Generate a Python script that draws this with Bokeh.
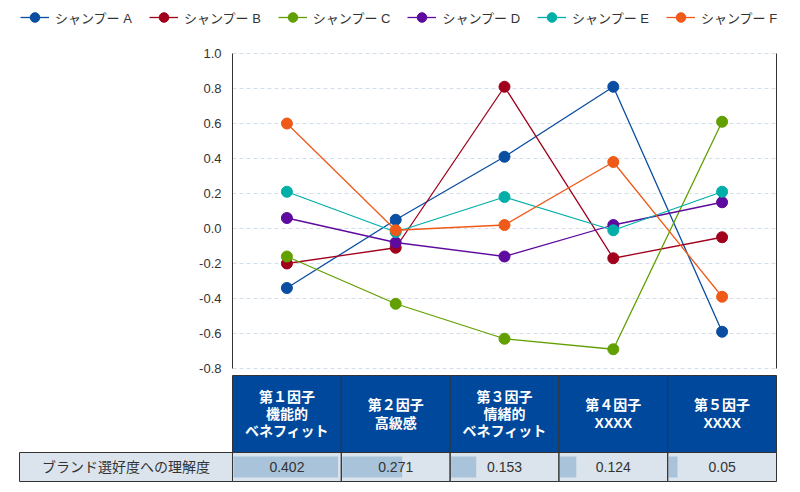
from bokeh.plotting import figure
from bokeh.models import (Range1d, LinearAxis, FixedTicker, Legend, Grid,
                          LegendItem, NumeralTickFormatter)
from bokeh.embed import file_html
from bokeh.resources import INLINE
from bokeh.core.properties import value

# ---------------- data ----------------
categories = ["第１因子\n機能的\nベネフィット", "第２因子\n高級感",
              "第３因子\n情緒的\nベネフィット", "第４因子\nXXXX", "第５因子\nXXXX"]
series_names = ["シャンプー A", "シャンプー B", "シャンプー C",
                "シャンプー D", "シャンプー E", "シャンプー F"]
sample_a = [-0.34, 0.05, 0.41, 0.81, -0.59]
sample_b = [-0.20, -0.11, 0.81, -0.17, -0.05]
sample_c = [-0.16, -0.43, -0.63, -0.69, 0.61]
sample_d = [0.06, -0.08, -0.16, 0.02, 0.15]
sample_e = [0.21, -0.02, 0.18, -0.01, 0.21]
sample_f = [0.60, -0.01, 0.02, 0.38, -0.39]
y_ticks = [-0.8, -0.6, -0.4, -0.2, 0.0, 0.2, 0.4, 0.6, 0.8, 1.0]
row_label = "ブランド選好度への理解度"
understanding = [0.402, 0.271, 0.153, 0.124, 0.05]
value_labels = ["0.402", "0.271", "0.153", "0.124", "0.05"]
bar_share = [0.97, 0.56, 0.24, 0.16, 0.09]   # bar length as share of cell

series = [sample_a, sample_b, sample_c, sample_d, sample_e, sample_f]
colors = ["#0a4ea2", "#a0001c", "#62a000", "#5e0a9e", "#00afa8", "#ef5a18"]

FONT_S = "Liberation Sans, Noto Sans CJK JP"
FONT = value(FONT_S)
TXT = "#333333"

# ---------------- layout (pixel geometry) ----------------
W, H = 784, 484
Y_MIN, Y_MAX = -0.8, 1.0
PX_LEFT, PX_RIGHT = 232, 776      # plot area left / right edge
PX_TOP, PX_BOT = 53, 368          # y = 1.0 / y = -0.8
ncat = len(categories)
unit = (PX_RIGHT - PX_LEFT) / ncat
yscale = (PX_BOT - PX_TOP) / (Y_MAX - Y_MIN)


def X(px):
    return -0.5 + (px - PX_LEFT) / unit


def Y(px):
    return Y_MAX - (px - PX_TOP) / yscale


p = figure(width=W, height=H, x_range=Range1d(X(0), X(W)),
           y_range=Range1d(Y(H), Y(0)), output_backend="svg",
           toolbar_location=None, x_axis_location=None, y_axis_location=None,
           min_border=0)
p.outline_line_color = None
p.background_fill_color = "white"
p.border_fill_color = "white"
p.grid.visible = False

# y axis (left) and plain right border line
ya = LinearAxis(fixed_location=-0.5, bounds=(Y_MIN, Y_MAX),
                ticker=FixedTicker(ticks=y_ticks),
                formatter=NumeralTickFormatter(format="0.0"),
                major_tick_line_color=None, minor_tick_line_color=None,
                major_tick_out=0, major_tick_in=0, major_label_standoff=11,
                axis_line_color="#333333", axis_line_width=1,
                major_label_text_font=FONT_S, major_label_text_font_size="13px",
                major_label_text_color=TXT)
p.add_layout(ya, "left")
ra = LinearAxis(fixed_location=ncat - 0.5, bounds=(Y_MIN, Y_MAX),
                ticker=FixedTicker(ticks=[]), axis_line_color="#333333",
                major_tick_line_color=None, minor_tick_line_color=None,
                major_label_text_font_size="0px", major_tick_out=0, major_tick_in=0)
p.add_layout(ra, "right")

grid = Grid(dimension=1, ticker=FixedTicker(ticks=y_ticks), bounds=(Y_MIN, Y_MAX),
            grid_line_color="#d2deea", grid_line_dash="4 3", grid_line_width=1)
if "cross_bounds" in Grid.properties():
    grid.cross_bounds = (-0.5, ncat - 0.5)
    p.add_layout(grid)
else:
    p.segment(x0=[-0.5] * len(y_ticks), x1=[ncat - 0.5] * len(y_ticks),
              y0=y_ticks, y1=y_ticks, line_color="#d2deea", line_dash="4 3",
              line_width=1)

idx = list(range(ncat))
items = []
for name, vals, col in zip(series_names, series, colors):
    lr = p.line(x=idx, y=vals, line_color=col, line_width=1.3)
    sr = p.scatter(x=idx, y=vals, size=11, fill_color=col, line_color=col)
    items.append(LegendItem(label=name, renderers=[lr, sr]))

legend = Legend(items=items, orientation="horizontal", location=(20, H - 29),
                glyph_width=29, glyph_height=24, label_standoff=6, spacing=17,
                padding=0, margin=0, border_line_color=None,
                background_fill_alpha=0, label_text_font_size="13px",
                label_text_color=TXT, label_text_font=FONT_S)
p.add_layout(legend, "center")

# ---------------- table ----------------
head_top, head_bot, row_bot = Y(375), Y(452), Y(481)
bar_top, bar_bot = Y(456), Y(477)
left = [i - 0.5 for i in idx]
right = [i + 0.5 for i in idx]
lab_left = X(19)

p.quad(left=left, right=right, top=[head_top] * ncat, bottom=[head_bot] * ncat,
       fill_color="#00489c", line_color="#333333", line_width=1)
p.text(x=idx, y=[(head_top + head_bot) / 2] * ncat, text=categories,
       text_color="white", text_font=FONT, text_font_style="bold",
       text_font_size="14px", text_align="center", text_baseline="middle",
       text_line_height=1.07)

p.quad(left=[lab_left] + left, right=[-0.5] + right, top=[head_bot] * (ncat + 1),
       bottom=[row_bot] * (ncat + 1), fill_color="#dbe4ed", line_color=None)
p.quad(left=[l + 1.0 / unit for l in left],
       right=[l + s for l, s in zip(left, bar_share)],
       top=[bar_top] * ncat, bottom=[bar_bot] * ncat, fill_color="#a8c3da",
       line_color=None)
p.quad(left=[lab_left] + left, right=[-0.5] + right, top=[head_bot] * (ncat + 1),
       bottom=[row_bot] * (ncat + 1), fill_color=None, line_color="#333333",
       line_width=1)
row_mid = (head_bot + row_bot) / 2
p.text(x=idx, y=[row_mid] * ncat, text=value_labels, text_color=TXT,
       text_font=FONT, text_font_size="14px", text_align="center",
       text_baseline="middle")
p.text(x=[(lab_left - 0.5) / 2], y=[row_mid], text=[row_label], text_color=TXT,
       text_font=FONT, text_font_size="14px", text_align="center",
       text_baseline="middle")

open("out.html", "w").write(file_html(p, INLINE))
